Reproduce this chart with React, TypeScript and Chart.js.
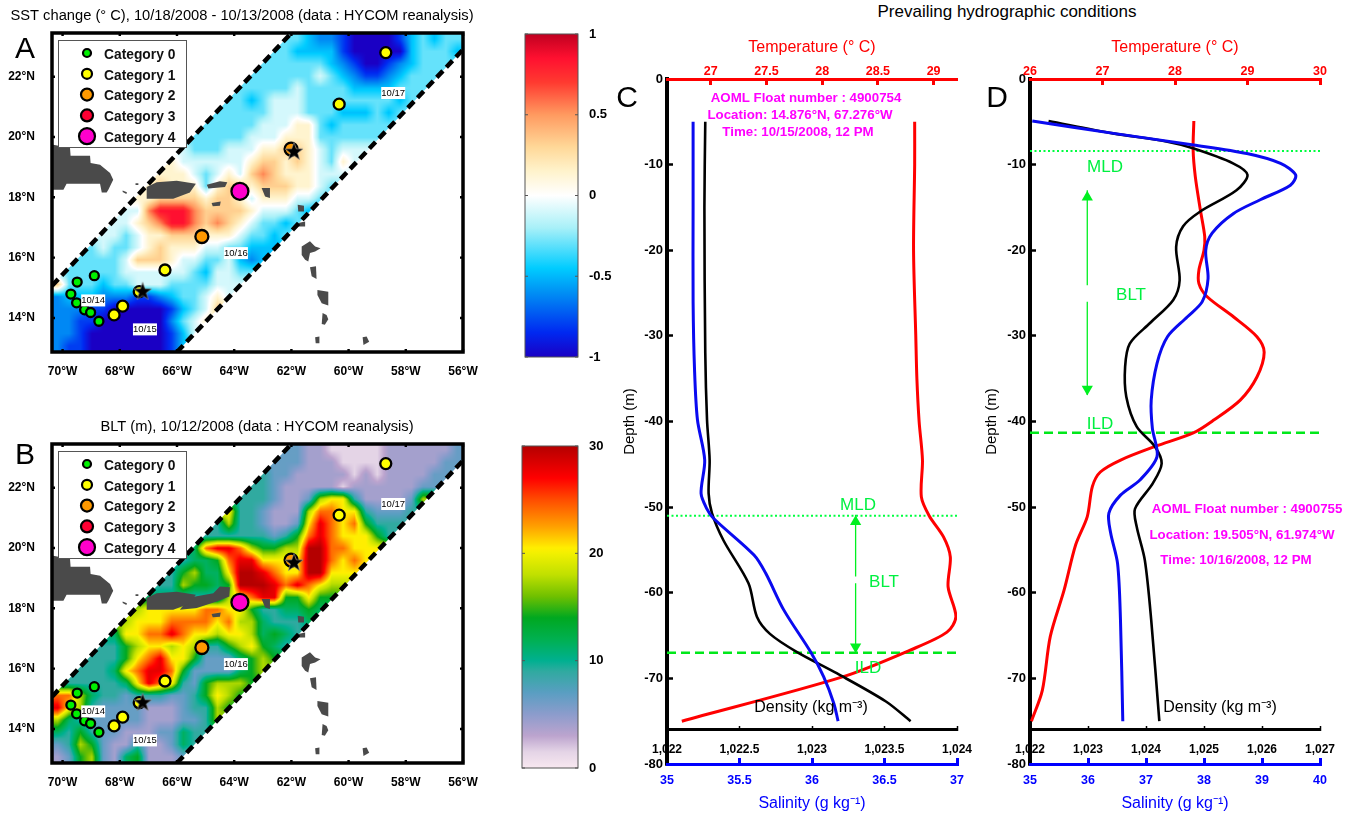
import React, { useEffect, useRef } from "react";
import { Chart, registerables } from "chart.js";

Chart.register(...registerables);
Chart.defaults.font.family = '"Liberation Sans", Arial, sans-serif';

const FONT = '"Liberation Sans", Arial, sans-serif';

// ---------- map axes ----------
const LON_MIN = 56;
const LON_MAX = 70.37;
const LAT_MIN = 12.87;
const LAT_MAX = 23.45;

// ---------- fields: one character per 36x26 cell, "." lies outside of the swath ----------
const sstLevels = [-1, -0.8, -0.62, -0.48, -0.3, -0.1, 0.14, 0.33, 0.55, 0.85];
const sstRows = [
  "....................4432210000134344",
  "...................44333310000034443",
  "..................44444432100123444",
  ".................44444454321123444",
  "................44444544443333444",
  "...............44345554444444434",
  "..............44444555444333434",
  ".............44444555664344444",
  "............44444555666444444",
  "...........54445556677654555",
  "..........65555556776765465",
  ".........66654565787666555",
  "........67666467767776654",
  ".......66777767765666554",
  "......55899987777655543",
  ".....55678998787654434",
  "....55456677766654434",
  "...45445676665544333",
  "..44445777655445323",
  ".44444555555435544",
  "74443445554444555",
  "2333222112344565",
  "222110000013457",
  "22110000002456",
  "2210000000135",
  "211000000013",
];
const bltLevels = [1.5, 4, 6.5, 9, 11.5, 14, 17.5, 20.5, 24, 28, 30];
const bltRows = [
  "....................2211000001111112",
  "...................22211100001111122",
  "..................32211111010111122",
  ".................33211111011111122",
  "................33321126773111126",
  "...............73321116887732223",
  "..............36332112798785333",
  ".............33333323589877753",
  "............4899865566aa88777",
  "...........34458997777aa8787",
  "..........356447aa9877aa777",
  ".........3365545aaa9898766",
  "........44433336789955755",
  ".......67777788775334454",
  "......67778888786643334",
  ".....47788987767764543",
  "....33567767633567543",
  "...33357897752224565",
  "..33347899852222456",
  ".33333479873256665",
  "88643323332235765",
  "9763222211123365",
  "643222221112236",
  "43532211122433",
  "2365211311243",
  "125621451112",
];

// ---------- colour scales [value, colour] ----------
const sstStops = [
  [-1, "#1a00c4"], [-0.85, "#0028f0"], [-0.6, "#0090f4"], [-0.45, "#00ccff"], [-0.2, "#a8f0f8"],
  [0, "#ffffff"], [0.15, "#fff3cc"], [0.3, "#ffd898"], [0.5, "#ff9a60"], [0.7, "#ff3a30"],
  [0.85, "#ff1030"], [1, "#c00020"],
];
const bltStops = [
  [0, "#f8e8f0"], [1.5, "#e4d4e6"], [3, "#bca4ce"], [5, "#8c9ccc"], [7, "#5a9ec2"], [9, "#30aaa0"],
  [10, "#00b090"], [12, "#00b050"], [14, "#00a820"], [16, "#70c000"], [18, "#c0e000"], [20, "#f2f000"],
  [20.5, "#ffee00"], [22.5, "#ffa000"], [25, "#ff4c00"], [27, "#ff0000"], [30, "#b40000"],
];

// ---------- swath ----------
const swathUpper = [[70.37, 15.07], [62.0, 23.45]];
const swathLower = [[66.0, 12.87], [56.0, 22.9]];
const swathShape = [[70.37, 15.07], [62.0, 23.45], [56, 23.45], [56, 22.9], [66.0, 12.87], [70.37, 12.87]];

// ---------- land ----------
const landCommon = [
  [[70.38, 19.75], [69.74, 19.64], [69.72, 19.38], [69.04, 19.38], [69.02, 19.14], [68.69, 19.08], [68.34, 18.81], [68.23, 18.58], [68.4, 18.25], [68.46, 18.16], [68.63, 18.16], [68.69, 18.45], [69.86, 18.45], [69.97, 18.25], [70.37, 18.25]],
  [[67.06, 18.34], [66.71, 18.5], [66.01, 18.55], [65.34, 18.45], [65.55, 18.16], [66.13, 17.95], [67.06, 17.95]],
  [[64.79, 17.81], [64.47, 17.86], [64.5, 17.72], [64.75, 17.7]],
  [[63.04, 18.31], [62.75, 18.31], [62.75, 17.98], [62.92, 18.03]],
  [[61.78, 17.75], [61.56, 17.72], [61.56, 17.53], [61.76, 17.53]],
  [[61.76, 17.15], [61.52, 17.2], [61.52, 17.03], [61.76, 17.03]],
  [[61.64, 16.37], [61.35, 16.54], [61.17, 16.37], [60.98, 16.31], [61.17, 16.2], [61.35, 16.15], [61.41, 15.87], [61.52, 15.93], [61.64, 16.09]],
  [[61.35, 15.68], [61.14, 15.71], [61.12, 15.29], [61.29, 15.38]],
  [[61.09, 14.93], [60.71, 14.87], [60.71, 14.41], [60.94, 14.49], [61.09, 14.76]],
  [[60.91, 14.16], [60.77, 14.1], [60.71, 13.96], [60.83, 13.77], [60.94, 13.8]],
  [[61.17, 13.36], [61.02, 13.38], [61.02, 13.16], [61.15, 13.16]],
  [[59.51, 13.36], [59.37, 13.38], [59.28, 13.21], [59.48, 13.1]],
  [[67.9, 18.23], [67.75, 18.17], [67.77, 18.11], [67.9, 18.18]],
  [[67.45, 18.47], [67.35, 18.47], [67.35, 18.41], [67.45, 18.41]],
];
const landOnlyA = [[[64.96, 18.42], [64.5, 18.53], [64.24, 18.5], [64.32, 18.34], [64.9, 18.29]]];
const landOnlyB = [[[65.55, 18.36], [64.73, 18.5], [64.5, 18.72], [64.15, 18.7], [64.17, 18.39], [64.61, 18.23], [65.31, 18.01], [65.9, 17.95]]];

// ---------- storm track ----------
const categoryLabels = ["Category 0", "Category 1", "Category 2", "Category 3", "Category 4"];
const categoryColors = ["#00f000", "#ffff00", "#ff9900", "#ff0033", "#ff00cc"];
const categoryRadii = [4.5, 5.5, 6.5, 6.5, 8.5];
const trackCat0 = [[68.89, 15.4], [69.49, 15.19], [69.71, 14.79], [69.51, 14.5], [69.23, 14.27], [69.02, 14.18], [68.73, 13.89]];
const trackCat1 = [[68.2, 14.1], [67.9, 14.39], [67.32, 14.87], [66.42, 15.59], [60.33, 21.09], [58.7, 22.8]];
const trackCat2 = [[65.13, 16.7], [62.01, 19.6]];
const trackCat3 = [];
const trackCat4 = [[63.8, 18.2]];
const floatStars = [[67.2, 14.87], [61.91, 19.51]];
const dateLabels = [["10/14", 68.93, 14.58], ["10/15", 67.12, 13.62], ["10/16", 63.94, 16.15], ["10/17", 58.44, 21.46]];

// ---------- profiles: [value, depth] ----------
const cTemperature = [[28.83, -5], [28.83, -10], [28.82, -20], [28.84, -30], [28.85, -35], [28.87, -40], [28.9, -44.5], [28.89, -48.8], [28.96, -51], [29.09, -53.5], [29.15, -55.8], [29.13, -59.3], [29.2, -62.8], [29.12, -64.6], [28.79, -66.7], [28.19, -69.8], [26.74, -75]];
const cSalinity = [[35.18, -5], [35.18, -15], [35.18, -26], [35.19, -34], [35.21, -39.8], [35.26, -44.5], [35.235, -48.4], [35.275, -50.2], [35.32, -51.3], [35.6, -55.6], [35.68, -57.7], [35.805, -62], [35.99, -66.9], [36.08, -69.8], [36.15, -72.9], [36.18, -75]];
const cDensity = [[1022.264, -5], [1022.258, -15], [1022.264, -32], [1022.276, -39.8], [1022.294, -44.5], [1022.287, -48.4], [1022.31, -50.7], [1022.39, -53.9], [1022.562, -58.9], [1022.62, -62.8], [1022.71, -64.8], [1022.894, -66.9], [1023.17, -69.4], [1023.51, -72.7], [1023.68, -75]];
const dTemperature = [[28.26, -4.9], [28.25, -8.3], [28.28, -11.4], [28.35, -15.3], [28.41, -18.4], [28.4, -20], [28.33, -22.3], [28.33, -23.9], [28.44, -25.4], [28.81, -27.8], [29.13, -30.1], [29.23, -31.9], [29.13, -34.8], [28.9, -37.5], [28.54, -39.8], [28.26, -41.3], [27.73, -42.9], [27.25, -44.5], [26.97, -45.9], [26.86, -47.6], [26.79, -51.1], [26.63, -54.4], [26.47, -59.7], [26.28, -65.1], [26.17, -71.4], [26.02, -75]];
const dSalinity = [[35.04, -4.9], [36.44, -6.35], [37.82, -7.7], [38.74, -8.7], [39.32, -9.85], [39.58, -11.2], [39.49, -12.4], [38.97, -14.1], [38.51, -15.7], [38.14, -18], [38.03, -20], [38.07, -23.3], [37.97, -26], [37.71, -27.8], [37.37, -30.1], [37.19, -33.2], [37.09, -37.5], [37.11, -40.8], [37.19, -44.1], [36.9, -46.8], [36.56, -48.6], [36.36, -50.7], [36.39, -53], [36.51, -56.6], [36.56, -63.2], [36.6, -75]];
const dDensity = [[1022.32, -4.9], [1023.43, -6.35], [1024.35, -7.3], [1024.81, -8.1], [1025.5, -9.85], [1025.75, -11.2], [1025.56, -13], [1024.93, -15.5], [1024.64, -17.2], [1024.52, -19.6], [1024.58, -23.5], [1024.47, -25.8], [1024.07, -28.5], [1023.72, -30.9], [1023.64, -33.6], [1023.66, -37.1], [1023.84, -40.6], [1024.15, -42.9], [1024.27, -44.9], [1024.12, -47.2], [1023.81, -50.2], [1023.84, -52.3], [1023.98, -56.2], [1024.09, -63.2], [1024.23, -75]];
const cDepths = { mld: -51, ild: -67 };
const dDepths = { mld: -8.4, ild: -41.3 };
const cArrow = [[28.3, -50.9], [28.3, -58.1], [NaN, NaN], [28.3, -58.9], [28.3, -67]];
const dArrow = [[26.79, -13], [26.79, -24.1], [NaN, NaN], [26.79, -26], [26.79, -36.9]];
const cArrowHeads = [[28.3, -51.7, 0], [28.3, -66.3, 180]];
const dArrowHeads = [[26.79, -13.8, 0], [26.79, -36.2, 180]];

const toXY = (list) => list.map((p) => ({ x: p[0], y: p[1] }));

function hexRgb(h) {
  return [parseInt(h.slice(1, 3), 16), parseInt(h.slice(3, 5), 16), parseInt(h.slice(5, 7), 16)];
}
function colorAt(stops, v) {
  if (v <= stops[0][0]) return hexRgb(stops[0][1]);
  for (let i = 1; i < stops.length; i++) {
    if (v <= stops[i][0]) {
      const t = (v - stops[i - 1][0]) / (stops[i][0] - stops[i - 1][0]);
      const a = hexRgb(stops[i - 1][1]);
      const b = hexRgb(stops[i][1]);
      return [0, 1, 2].map((k) => a[k] + (b[k] - a[k]) * t);
    }
  }
  return hexRgb(stops[stops.length - 1][1]);
}
function parseField(rows, levels) {
  return rows.map((row) => {
    const chars = row.padEnd(36, ".").split("");
    const first = chars.find((c) => c !== ".");
    let last = first;
    return chars.map((c) => {
      if (c !== ".") last = c;
      return levels[parseInt(last, 16)];
    });
  });
}

const fieldPlugin = (rows, levels, stops) => ({
  id: "field",
  beforeDatasetsDraw(chart) {
    const { ctx, chartArea: a, scales } = chart;
    const grid = parseField(rows, levels);
    const nr = grid.length;
    const nc = grid[0].length;
    const dLon = (LON_MAX - LON_MIN) / nc;
    const dLat = (LAT_MAX - LAT_MIN) / nr;
    const w = Math.round(a.width);
    const h = Math.round(a.height);
    const off = document.createElement("canvas");
    off.width = w;
    off.height = h;
    const octx = off.getContext("2d");
    const img = octx.createImageData(w, h);
    for (let py = 0; py < h; py++) {
      const lat = scales.y.getValueForPixel(a.top + py + 0.5);
      const gy = Math.max(0, Math.min(nr - 1.001, (LAT_MAX - lat) / dLat - 0.5));
      const r0 = Math.floor(gy);
      const fy = gy - r0;
      for (let px = 0; px < w; px++) {
        const lon = scales.x.getValueForPixel(a.left + px + 0.5);
        const gx = Math.max(0, Math.min(nc - 1.001, (LON_MAX - lon) / dLon - 0.5));
        const c0 = Math.floor(gx);
        const fx = gx - c0;
        const v =
          grid[r0][c0] * (1 - fx) * (1 - fy) +
          grid[r0][c0 + 1] * fx * (1 - fy) +
          grid[r0 + 1][c0] * (1 - fx) * fy +
          grid[r0 + 1][c0 + 1] * fx * fy;
        const col = colorAt(stops, v);
        const i = (py * w + px) * 4;
        img.data[i] = col[0];
        img.data[i + 1] = col[1];
        img.data[i + 2] = col[2];
        img.data[i + 3] = 255;
      }
    }
    octx.putImageData(img, 0, 0);
    ctx.save();
    ctx.beginPath();
    swathShape.forEach((p, i) => {
      const X = scales.x.getPixelForValue(p[0]);
      const Y = scales.y.getPixelForValue(p[1]);
      if (i) ctx.lineTo(X, Y);
      else ctx.moveTo(X, Y);
    });
    ctx.closePath();
    ctx.clip();
    ctx.drawImage(off, a.left, a.top);
    ctx.restore();
  },
});

// frame and inward ticks
const framePlugin = (color, width, tickLen) => ({
  id: "frame",
  afterDatasetsDraw(chart) {
    const { ctx, chartArea: a, scales } = chart;
    ctx.save();
    ctx.strokeStyle = color;
    ctx.lineWidth = Math.max(1, width * 0.7);
    ctx.beginPath();
    if (scales.x && scales.x.type === "linear") {
      scales.x.ticks.forEach((t) => {
        const X = scales.x.getPixelForValue(t.value);
        ctx.moveTo(X, a.top);
        ctx.lineTo(X, a.top + tickLen);
        ctx.moveTo(X, a.bottom);
        ctx.lineTo(X, a.bottom - tickLen);
      });
    }
    scales.y.ticks.forEach((t) => {
      const Y = scales.y.getPixelForValue(t.value);
      ctx.moveTo(a.left, Y);
      ctx.lineTo(a.left + tickLen, Y);
      ctx.moveTo(a.right, Y);
      ctx.lineTo(a.right - tickLen, Y);
    });
    ctx.stroke();
    ctx.lineWidth = width;
    ctx.strokeRect(a.left, a.top, a.right - a.left, a.bottom - a.top);
    ctx.restore();
  },
});

const legendPlugin = {
  id: "stormLegend",
  afterDatasetsDraw(chart) {
    const { ctx, chartArea: a } = chart;
    const L = a.left + 6;
    const T = a.top + 7;
    ctx.save();
    ctx.fillStyle = "#fff";
    ctx.fillRect(L, T, 128, 107);
    ctx.strokeStyle = "#555";
    ctx.lineWidth = 1;
    ctx.strokeRect(L + 0.5, T + 0.5, 128, 107);
    categoryLabels.forEach((label, i) => {
      const Y = T + 13 + i * 20.8;
      ctx.beginPath();
      ctx.arc(L + 29, Y, categoryRadii[i] - 0.5, 0, Math.PI * 2);
      ctx.fillStyle = categoryColors[i];
      ctx.fill();
      ctx.lineWidth = 2.2;
      ctx.strokeStyle = "#000";
      ctx.stroke();
      ctx.fillStyle = "#111";
      ctx.font = `bold 13.8px ${FONT}`;
      ctx.textAlign = "left";
      ctx.textBaseline = "middle";
      ctx.fillText(label, L + 46, Y + 2);
    });
    ctx.restore();
  },
};

const dateLabelPlugin = {
  id: "dateLabels",
  afterDatasetsDraw(chart) {
    const { ctx, scales } = chart;
    ctx.save();
    ctx.font = `9.5px ${FONT}`;
    ctx.textAlign = "center";
    ctx.textBaseline = "middle";
    dateLabels.forEach((d) => {
      const X = scales.x.getPixelForValue(d[1]);
      const Y = scales.y.getPixelForValue(d[2]);
      ctx.fillStyle = "#fff";
      ctx.fillRect(X - 12, Y - 6, 24, 12);
      ctx.fillStyle = "#000";
      ctx.fillText(d[0], X, Y);
    });
    ctx.restore();
  },
};

const textPlugin = (items, ox, oy) => ({
  id: "pageText",
  afterDraw(chart) {
    const { ctx } = chart;
    ctx.save();
    ctx.textBaseline = "middle";
    items.forEach((it) => {
      ctx.font = it.font;
      ctx.fillStyle = it.color || "#000";
      ctx.textAlign = it.align || "center";
      ctx.fillText(it.t, it.x - ox, it.y - oy);
    });
    ctx.restore();
  },
});

function fix(thickness, horizontal) {
  return (s) => {
    if (horizontal) s.height = thickness;
    else s.width = thickness;
    s.paddingLeft = 0;
    s.paddingRight = 0;
    s.paddingTop = 0;
    s.paddingBottom = 0;
  };
}

function starImage() {
  const c = document.createElement("canvas");
  c.width = 22;
  c.height = 22;
  const g = c.getContext("2d");
  g.beginPath();
  for (let i = 0; i < 10; i++) {
    const r = i % 2 ? 3.8 : 9.5;
    const th = -Math.PI / 2 + (i * Math.PI) / 5;
    const X = 11 + r * Math.cos(th);
    const Y = 11 + r * Math.sin(th);
    if (i) g.lineTo(X, Y);
    else g.moveTo(X, Y);
  }
  g.closePath();
  g.fillStyle = "#000";
  g.fill();
  g.strokeStyle = "#999";
  g.lineWidth = 0.6;
  g.stroke();
  return c;
}

function mapConfig(canvasTop, rows, levels, stops, extraLand, texts) {
  const land = [...landCommon, ...extraLand].map((poly) => ({
    data: toXY(poly),
    showLine: true,
    fill: "shape",
    tension: 0,
    borderWidth: 0,
    borderColor: "#4a4a4a",
    backgroundColor: "#4a4a4a",
    pointRadius: 0,
    order: 6,
  }));
  const dashes = [swathUpper, swathLower].map((line) => ({
    data: toXY(line),
    showLine: true,
    borderColor: "#000",
    borderWidth: 4.5,
    borderDash: [9, 5],
    pointRadius: 0,
    order: 5,
  }));
  const tracks = [trackCat0, trackCat1, trackCat2, trackCat3, trackCat4].map((pts, i) => ({
    label: categoryLabels[i],
    data: toXY(pts),
    showLine: false,
    pointRadius: categoryRadii[i],
    pointBackgroundColor: categoryColors[i],
    pointBorderColor: "#000",
    pointBorderWidth: 2.3,
    order: 4 - i * 0.1,
  }));
  const stars = {
    data: toXY(floatStars),
    showLine: false,
    pointStyle: starImage(),
    pointRadius: 9,
    order: 1,
  };
  return {
    type: "scatter",
    data: { datasets: [...land, ...dashes, ...tracks, stars] },
    options: {
      animation: false,
      responsive: false,
      layout: { padding: { left: 0, top: 33, right: 37, bottom: 8 } },
      plugins: { legend: { display: false }, tooltip: { enabled: false } },
      scales: {
        x: {
          type: "linear",
          reverse: true,
          min: LON_MIN,
          max: LON_MAX,
          afterFit: fix(40, true),
          grid: { display: false },
          border: { display: false },
          ticks: {
            stepSize: 2,
            includeBounds: false,
            maxRotation: 0,
            autoSkip: false,
            padding: 4,
            color: "#000",
            font: { size: 12, weight: "bold" },
            callback: (v) => `${v}°W`,
          },
        },
        y: {
          type: "linear",
          min: LAT_MIN,
          max: LAT_MAX,
          afterFit: fix(52, false),
          grid: { display: false },
          border: { display: false },
          ticks: {
            stepSize: 2,
            includeBounds: false,
            padding: 9,
            color: "#000",
            font: { size: 12, weight: "bold" },
            callback: (v) => `${v}°N`,
          },
        },
      },
    },
    plugins: [
      fieldPlugin(rows, levels, stops),
      framePlugin("#000", 3.5, 3),
      dateLabelPlugin,
      legendPlugin,
      textPlugin(texts, 0, canvasTop),
    ],
  };
}

function colorbarConfig(stops, min, max, step, padding) {
  return {
    type: "bar",
    data: {
      labels: [""],
      datasets: [
        {
          data: [[min, max]],
          barPercentage: 1,
          categoryPercentage: 1,
          borderWidth: 0,
          backgroundColor: (context) => {
            const { chart } = context;
            if (!chart.chartArea) return "#fff";
            const y = chart.scales.y;
            const top = y.getPixelForValue(max);
            const bottom = y.getPixelForValue(min);
            const g = chart.ctx.createLinearGradient(0, bottom, 0, top);
            stops.forEach((s) => g.addColorStop((s[0] - min) / (max - min), s[1]));
            return g;
          },
        },
      ],
    },
    options: {
      animation: false,
      responsive: false,
      layout: { padding },
      plugins: { legend: { display: false }, tooltip: { enabled: false } },
      scales: {
        x: { display: false },
        y: {
          position: "right",
          min,
          max,
          afterFit: fix(36, false),
          grid: { display: false },
          border: { display: false },
          ticks: {
            stepSize: step,
            padding: 3,
            color: "#000",
            font: { size: 13, weight: "bold" },
            callback: (v) => String(v),
          },
        },
      },
    },
    plugins: [framePlugin("#555", 1, 3)],
  };
}

const plainTick = (v) => String(v);

function profileConfig(p) {
  const series = (data, axis, color, width) => ({
    data: toXY(data),
    xAxisID: axis,
    showLine: true,
    tension: 0.3,
    borderColor: color,
    borderWidth: width,
    pointRadius: 0,
  });
  const hLine = (depth, dash, width, color) => ({
    data: [{ x: p.tMin, y: depth }, { x: p.tMax, y: depth }],
    xAxisID: "temp",
    showLine: true,
    borderColor: color,
    borderWidth: width,
    borderDash: dash,
    pointRadius: 0,
  });
  const red = "#ff0000";
  const blue = "#0000ff";
  return {
    type: "scatter",
    data: {
      datasets: [
        series(p.sal, "sal", "#0a0af0", 3),
        series(p.dens, "dens", "#000", 2.6),
        series(p.temp, "temp", red, 3),
        hLine(p.depths.mld, [2, 2.5], 2, "#00ff40"),
        hLine(p.depths.ild, [9, 5], 2.5, "#00e81a"),
        {
          data: toXY(p.arrow),
          xAxisID: "temp",
          showLine: true,
          spanGaps: false,
          borderColor: "#00f020",
          borderWidth: 1.3,
          pointRadius: 0,
        },
        {
          data: p.heads.map((h) => ({ x: h[0], y: h[1] })),
          xAxisID: "temp",
          showLine: false,
          pointStyle: "triangle",
          pointRadius: 6.5,
          pointRotation: p.heads.map((h) => h[2]),
          pointBackgroundColor: "#00f020",
          pointBorderColor: "#00f020",
          pointBorderWidth: 0,
        },
      ],
    },
    options: {
      animation: false,
      responsive: false,
      layout: { padding: p.padding },
      plugins: { legend: { display: false }, tooltip: { enabled: false } },
      scales: {
        y: {
          type: "linear",
          position: "left",
          min: -80,
          max: 0,
          afterFit: fix(p.yWidth, false),
          border: { color: "#000", width: 4 },
          grid: { drawOnChartArea: false, tickLength: -6, tickWidth: 2.5, tickColor: "#000" },
          ticks: { stepSize: 10, padding: 10, color: "#000", font: { size: 13, weight: "bold" }, callback: plainTick },
          title: { display: true, text: "Depth (m)", color: "#000", font: { size: 15 }, padding: 0 },
        },
        temp: {
          type: "linear",
          axis: "x",
          position: "top",
          min: p.tMin,
          max: p.tMax,
          afterFit: fix(41, true),
          border: { color: red, width: 3 },
          grid: { drawOnChartArea: false, tickLength: -6, tickWidth: 3, tickColor: red },
          ticks: { stepSize: p.tStep, includeBounds: false, maxRotation: 0, autoSkip: false, padding: 6, color: red, font: { size: 12.5, weight: "bold" }, callback: plainTick },
          title: { display: true, text: "Temperature (° C)", color: red, font: { size: 16 }, padding: 0 },
        },
        dens: {
          type: "linear",
          axis: "x",
          position: { y: -76 },
          min: p.rMin,
          max: p.rMax,
          afterFit: fix(0, true),
          border: { color: "#000", width: 3 },
          grid: { drawOnChartArea: false, tickLength: -5, tickWidth: 1.5, tickColor: "#000" },
          ticks: {
            stepSize: p.rStep,
            maxRotation: 0,
            autoSkip: false,
            padding: 18,
            color: "#000",
            font: { size: 12, weight: "bold" },
            callback: (v) => v.toLocaleString("en-US"),
          },
        },
        sal: {
          type: "linear",
          axis: "x",
          position: "bottom",
          min: p.sMin,
          max: p.sMax,
          afterFit: fix(49, true),
          border: { color: blue, width: 3 },
          grid: { drawOnChartArea: false, tickLength: -6, tickWidth: 3, tickColor: blue },
          ticks: { stepSize: p.sStep, maxRotation: 0, autoSkip: false, padding: 15, color: blue, font: { size: 12.5, weight: "bold" }, callback: plainTick },
          title: { display: true, text: "Salinity (g kg⁻¹)", color: blue, font: { size: 16 }, padding: 0 },
        },
      },
    },
    plugins: [textPlugin(p.texts, p.ox, 0)],
  };
}

const LETTER = `30px ${FONT}`;
const ANNOT = `bold 13.3px ${FONT}`;
const GREENTXT = `17px ${FONT}`;
const GREEN = "#00f040";
const MAGENTA = "#ff00ff";
const DENS = `16px ${FONT}`;

const textsA = [
  { t: "SST change (° C), 10/18/2008 - 10/13/2008 (data : HYCOM reanalysis)", x: 242, y: 16, font: `14.7px ${FONT}` },
  { t: "A", x: 25, y: 50, font: LETTER },
];
const textsB = [
  { t: "BLT (m), 10/12/2008 (data : HYCOM reanalysis)", x: 257, y: 427, font: `14.7px ${FONT}` },
  { t: "B", x: 25, y: 456, font: LETTER },
];
const textsC = [
  { t: "C", x: 627, y: 99, font: LETTER },
  { t: "AOML Float number : 4900754", x: 806, y: 98, font: ANNOT, color: MAGENTA },
  { t: "Location: 14.876°N, 67.276°W", x: 800, y: 115, font: ANNOT, color: MAGENTA },
  { t: "Time: 10/15/2008, 12 PM", x: 798, y: 132, font: ANNOT, color: MAGENTA },
  { t: "MLD", x: 858, y: 505, font: GREENTXT, color: GREEN },
  { t: "BLT", x: 884, y: 582, font: GREENTXT, color: GREEN },
  { t: "ILD", x: 868, y: 668, font: GREENTXT, color: GREEN },
  { t: "Density (kg m⁻³)", x: 811, y: 708, font: DENS },
];
const textsD = [
  { t: "D", x: 997, y: 99, font: LETTER },
  { t: "AOML Float number : 4900755", x: 1247, y: 509, font: ANNOT, color: MAGENTA },
  { t: "Location: 19.505°N, 61.974°W", x: 1242, y: 535, font: ANNOT, color: MAGENTA },
  { t: "Time: 10/16/2008, 12 PM", x: 1236, y: 560, font: ANNOT, color: MAGENTA },
  { t: "MLD", x: 1105, y: 167, font: GREENTXT, color: GREEN },
  { t: "BLT", x: 1131, y: 295, font: GREENTXT, color: GREEN },
  { t: "ILD", x: 1100, y: 424, font: GREENTXT, color: GREEN },
  { t: "Density (kg m⁻³)", x: 1220, y: 708, font: DENS },
];

const panels = [
  { left: 0, top: 0, width: 500, height: 400 },
  { left: 0, top: 411, width: 500, height: 400 },
  { left: 505, top: 20, width: 110, height: 350 },
  { left: 505, top: 435, width: 110, height: 350 },
  { left: 600, top: 0, width: 375, height: 815 },
  { left: 975, top: 0, width: 377, height: 815 },
];

function buildConfigs() {
  return [
    mapConfig(0, sstRows, sstLevels, sstStops, landOnlyA, textsA),
    mapConfig(411, bltRows, bltLevels, bltStops, landOnlyB, textsB),
    colorbarConfig(sstStops, -1, 1, 0.5, { left: 20, top: 14, right: 1, bottom: 13 }),
    colorbarConfig(bltStops, 0, 30, 10, { left: 17, top: 11, right: 1, bottom: 17 }),
    profileConfig({
      ox: 600,
      padding: { left: 21, top: 38, right: 18, bottom: 2 },
      yWidth: 46,
      tMin: 26.607,
      tMax: 29.21,
      tStep: 0.5,
      rMin: 1022,
      rMax: 1024,
      rStep: 0.5,
      sMin: 35,
      sMax: 37,
      sStep: 0.5,
      temp: cTemperature,
      sal: cSalinity,
      dens: cDensity,
      depths: cDepths,
      arrow: cArrow,
      heads: cArrowHeads,
      texts: textsC,
    }),
    profileConfig({
      ox: 975,
      padding: { left: 8, top: 38, right: 32, bottom: 2 },
      yWidth: 47,
      tMin: 26,
      tMax: 30,
      tStep: 1,
      rMin: 1022,
      rMax: 1027,
      rStep: 1,
      sMin: 35,
      sMax: 40,
      sStep: 1,
      temp: dTemperature,
      sal: dSalinity,
      dens: dDensity,
      depths: dDepths,
      arrow: dArrow,
      heads: dArrowHeads,
      texts: textsD,
    }),
  ];
}

export default function App() {
  const refs = useRef([]);
  useEffect(() => {
    const configs = buildConfigs();
    const charts = configs.map((cfg, i) => new Chart(refs.current[i], cfg));
    return () => charts.forEach((c) => c.destroy());
  }, []);
  return (
    <div style={{ position: "fixed", left: 0, top: 0, width: 1352, height: 815, background: "#fff", overflow: "hidden" }}>
      <div
        style={{
          position: "absolute",
          left: 800,
          width: 414,
          top: 2,
          textAlign: "center",
          font: `17px ${FONT}`,
          color: "#000",
          whiteSpace: "nowrap",
        }}
      >
        Prevailing hydrographic conditions
      </div>
      {panels.map((p, i) => (
        <canvas
          key={i}
          ref={(el) => {
            refs.current[i] = el;
          }}
          width={p.width}
          height={p.height}
          style={{ position: "absolute", left: p.left, top: p.top, width: p.width, height: p.height }}
        />
      ))}
    </div>
  );
}
